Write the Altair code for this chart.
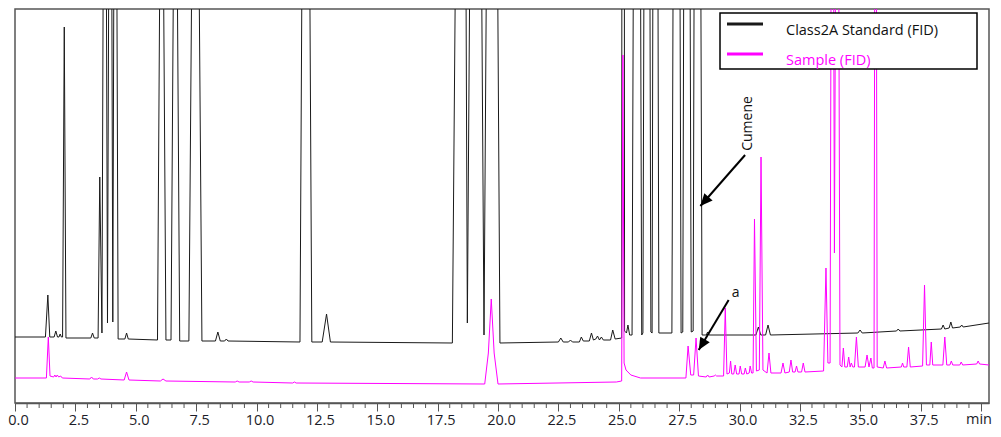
import altair as alt
import numpy as np
import pandas as pd

# ---------------- data ----------------
series_names = ["Class2A Standard (FID)", "Sample (FID)"]
series_colors = ["#1a1a1a", "#ff00ff"]

# Class2A Standard (FID) trace vertices: retention time (min), detector signal
std_time = [
    0.00, 1.26, 1.36, 1.44, 1.62, 1.69, 1.76, 1.82, 1.87, 1.92,
    1.97, 2.04, 2.11, 3.14, 3.21, 3.28, 3.44, 3.51, 3.60, 3.72,
    3.83, 3.95, 4.05, 4.15, 4.27, 4.55, 4.62, 4.69, 5.90, 6.07,
    6.25, 6.46, 6.64, 6.82, 7.20, 7.47, 7.74, 8.30, 8.40, 8.50,
    8.68, 8.75, 8.82, 11.80, 12.04, 12.29, 12.72, 12.90, 13.06, 18.11,
    18.53, 18.73, 19.08, 19.42, 19.76, 20.08, 22.50, 22.60, 22.70, 22.92,
    23.00, 23.08, 23.37, 23.45, 23.53, 23.78, 23.87, 23.95, 24.05, 24.12,
    24.20, 24.28, 24.36, 24.66, 24.75, 24.85, 25.12, 25.18, 25.24, 25.32,
    25.38, 25.45, 25.55, 25.76, 25.95, 26.00, 26.17, 26.33, 26.38, 26.51,
    26.66, 27.20, 27.40, 27.58, 27.65, 27.81, 28.00, 28.08, 28.24, 28.45,
    28.62, 28.68, 28.74, 30.68, 30.78, 30.88, 31.08, 31.18, 31.28, 34.90,
    34.99, 35.08, 36.50, 36.57, 36.64, 38.36, 38.43, 38.50, 38.68, 38.75,
    38.82, 39.14, 39.20, 39.26, 40.33,
]
std_signal = [
    66, 66, 108, 66, 66, 72, 66, 66, 69, 66,
    66, 376, 65, 65, 70, 65, 65, 226, 70, 900,
    80, 900, 81, 900, 64, 64, 70, 64, 63, 720,
    63, 63, 720, 62, 62, 900, 62, 62, 71, 62,
    62, 64, 62, 61, 1150, 61, 61, 89, 61, 60,
    1300, 80, 1300, 68, 1300, 60, 61, 65, 61, 61,
    63, 61, 61, 66, 62, 62, 70, 63, 64, 67,
    63, 66, 63, 63, 73, 64, 65, 3000, 72, 70,
    78, 68, 68, 1500, 68, 70, 1500, 71, 70, 1500,
    70, 70, 1500, 70, 71, 1500, 71, 72, 1500, 68,
    68, 71, 68, 68, 76, 68, 68, 78, 68, 70,
    73, 70, 72, 74, 72, 74, 78, 74, 75, 81,
    75, 76, 78, 76, 80,
]

# Sample (FID) trace vertices
smp_time = [
    0.00, 1.30, 1.38, 1.45, 1.60, 1.65, 1.70, 1.75, 1.81, 1.89,
    1.96, 3.10, 3.17, 3.24, 3.42, 3.49, 3.56, 4.52, 4.62, 4.72,
    6.02, 6.13, 6.25, 9.12, 9.20, 9.28, 9.70, 9.78, 9.86, 11.50,
    11.57, 11.64, 19.45, 19.60, 19.72, 19.84, 20.00, 24.90, 25.12, 25.17,
    25.22, 25.30, 25.50, 25.90, 27.78, 27.87, 27.98, 28.10, 28.20, 28.30,
    28.62, 28.68, 28.74, 28.95, 29.00, 29.05, 29.34, 29.41, 29.48, 29.58,
    29.63, 29.68, 29.76, 29.82, 29.88, 29.98, 30.03, 30.09, 30.19, 30.24,
    30.30, 30.40, 30.44, 30.50, 30.56, 30.62, 30.70, 30.82, 30.89, 30.97,
    31.14, 31.22, 31.30, 31.72, 31.80, 31.88, 32.06, 32.13, 32.20, 32.30,
    32.36, 32.42, 32.57, 32.64, 32.71, 33.48, 33.58, 33.66, 33.75, 33.84,
    33.93, 34.05, 34.16, 34.24, 34.30, 34.36, 34.46, 34.52, 34.58, 34.63,
    34.69, 34.76, 34.84, 34.92, 35.20, 35.28, 35.36, 35.44, 35.50, 35.57,
    35.63, 35.70, 35.95, 36.02, 36.09, 36.70, 36.75, 36.80, 36.93, 37.00,
    37.07, 37.58, 37.66, 37.74, 37.88, 37.94, 38.00, 38.42, 38.50, 38.58,
    38.71, 38.77, 38.83, 39.12, 39.18, 39.24, 39.82, 39.88, 39.94, 40.33,
]
smp_signal = [
    25, 25, 66, 27, 26, 28, 26, 28, 26, 27,
    25, 24, 26, 24, 24, 25, 24, 23, 31, 23,
    22, 24, 22, 21, 22, 21, 21, 22, 21, 20,
    21, 20, 19, 50, 104, 50, 19, 21, 22, 348,
    40, 33, 28, 25, 25, 57, 28, 28, 65, 27,
    26, 28, 26, 27, 28, 27, 27, 95, 29, 30,
    42, 29, 29, 38, 29, 29, 37, 29, 29, 35,
    29, 30, 37, 30, 30, 184, 32, 33, 246, 33,
    30, 50, 30, 30, 40, 30, 31, 43, 31, 31,
    37, 31, 31, 40, 31, 32, 135, 40, 40, 900,
    150, 900, 38, 36, 55, 36, 36, 46, 36, 40,
    36, 36, 66, 36, 36, 48, 36, 45, 35, 35,
    900, 36, 35, 42, 35, 36, 40, 36, 36, 56,
    36, 37, 118, 38, 38, 61, 38, 38, 66, 38,
    38, 42, 38, 38, 41, 38, 39, 42, 39, 38,
]

# x axis tick positions (min); the tick at 40 carries the unit label "min"
major_ticks = [0.0, 2.5, 5.0, 7.5, 10.0, 12.5, 15.0, 17.5, 20.0,
               22.5, 25.0, 27.5, 30.0, 32.5, 35.0, 37.5, 40.0]
minor_ticks = [0.5, 1.0, 1.5, 2.0, 3.0, 3.5, 4.0, 4.5, 5.5, 6.0, 6.5, 7.0,
               8.0, 8.5, 9.0, 9.5, 10.5, 11.0, 11.5, 12.0, 13.0, 13.5, 14.0, 14.5,
               15.5, 16.0, 16.5, 17.0, 18.0, 18.5, 19.0, 19.5, 20.5, 21.0, 21.5, 22.0,
               23.0, 23.5, 24.0, 24.5, 25.5, 26.0, 26.5, 27.0, 28.0, 28.5, 29.0, 29.5,
               30.5, 31.0, 31.5, 32.0, 33.0, 33.5, 34.0, 34.5, 35.5, 36.0, 36.5, 37.0,
               38.0, 38.5, 39.0, 39.5]
unit_label = "min"

# annotations
ann_text = ["Cumene", "a"]
ann_time = [30.37, 29.84]
ann_signal = [279.5, 110]
ann_angle = [270, 0]
arrow_tail_time = [30.23, 29.55]
arrow_tail_signal = [248, 103]
arrow_tip_time = [28.38, 28.31]
arrow_tip_signal = [197, 53]

# ---------------- chart ----------------
W, H = 974, 394
X_MAX = 40.33
Y_MAX = 394

trace = pd.concat([
    pd.DataFrame({"time": std_time, "signal": std_signal,
                  "series": series_names[0], "idx": range(len(std_time))}),
    pd.DataFrame({"time": smp_time, "signal": smp_signal,
                  "series": series_names[1], "idx": range(len(smp_time))}),
], ignore_index=True)

xs = alt.Scale(domain=[0, X_MAX], nice=False, zero=False)
ys = alt.Scale(domain=[0, Y_MAX], nice=False, zero=False)

font = "Open Sans"
axis_gray = "#555555"
label_color = "#1c1c28"
LABEL_FS = 14.5
LABEL_PAD = 2
TICK = 8

x_axis = alt.Axis(
    values=major_ticks,
    title=None,
    grid=False,
    labelExpr="datum.value >= 40 ? '' : format(datum.value, '.1f')",
    labelOverlap=False,
    labelFlush=False,
    labelFont=font,
    labelFontSize=LABEL_FS,
    labelColor=label_color,
    labelPadding=LABEL_PAD,
    labelOffset=3,
    tickSize=TICK,
    tickColor=axis_gray,
    tickWidth=1,
    domainColor=axis_gray,
    domainWidth=1.5,
)


def X(field):
    return alt.X(field, scale=xs, axis=x_axis)


def Y(field):
    return alt.Y(field, scale=ys, axis=None)


lines = alt.Chart(trace).mark_line(clip=True, strokeWidth=1).encode(
    x=X("time:Q"),
    y=Y("signal:Q"),
    color=alt.Color("series:N", scale=alt.Scale(domain=series_names, range=series_colors), legend=None),
    order="idx:Q",
)

minor = alt.Chart(pd.DataFrame({"time": minor_ticks})).mark_rule(color=axis_gray, strokeWidth=1).encode(
    x=X("time:Q"),
    y=alt.value(H),
    y2=alt.value(H + 5),
)

unit = alt.Chart(pd.DataFrame({"txt": [unit_label]})).mark_text(
    font=font, fontSize=LABEL_FS, color=label_color, align="right", baseline="top"
).encode(x=alt.value(W + 3), y=alt.value(H + TICK + LABEL_PAD), text="txt:N")

# annotation arrows
ax = np.array(arrow_tip_time) - np.array(arrow_tail_time)
ay = np.array(arrow_tip_signal) - np.array(arrow_tail_signal)
dx_px = ax * W / X_MAX
dy_px = -ay * H / Y_MAX
head_angle = (np.degrees(np.arctan2(dx_px, -dy_px)) + 360) % 360

arrows = pd.DataFrame({
    "t0": arrow_tail_time, "v0": arrow_tail_signal,
    "t1": arrow_tip_time, "v1": arrow_tip_signal,
    "ang": head_angle,
})

shafts = alt.Chart(arrows).mark_rule(color="black", strokeWidth=2).encode(
    x=X("t0:Q"), x2="t1:Q",
    y=Y("v0:Q"), y2="v1:Q",
)
heads = alt.Chart(arrows).mark_point(
    shape="M0,0L-0.45,1L0.45,1Z", filled=True, color="black", opacity=1, size=600, strokeWidth=0
).encode(
    x=X("t1:Q"),
    y=Y("v1:Q"),
    angle=alt.Angle("ang:Q", scale=None),
)

ann_df = pd.DataFrame({"t": ann_time, "v": ann_signal, "txt": ann_text, "ang": ann_angle})
ann = alt.Chart(ann_df).mark_text(font=font, fontSize=14, color="#111111", align="center", baseline="middle").encode(
    x=X("t:Q"),
    y=Y("v:Q"),
    text="txt:N",
    angle=alt.Angle("ang:Q", scale=None),
)

# legend box (drawn in pixel space, top-right)
one = pd.DataFrame({"k": [0]})
legend_layers = [
    alt.Chart(one).mark_rect(fill="white", stroke="black", strokeWidth=1.5).encode(
        x=alt.value(705), x2=alt.value(962), y=alt.value(4), y2=alt.value(60)
    )
]
for i, (name, col) in enumerate(zip(series_names, series_colors)):
    yy = 15 + 30 * i
    legend_layers.append(
        alt.Chart(one).mark_rule(color=col, strokeWidth=3).encode(
            x=alt.value(712), x2=alt.value(748), y=alt.value(yy)
        )
    )
    legend_layers.append(
        alt.Chart(one).mark_text(font=font, fontSize=14.5, color=col if i else "#111111",
                                 align="left", baseline="middle").encode(
            x=alt.value(771), y=alt.value(yy + 6.5), text=alt.value(name)
        )
    )

chart = alt.layer(lines, minor, unit, shafts, heads, ann, *legend_layers).properties(
    width=W, height=H,
    padding={"left": 7, "top": 1, "right": 4, "bottom": 26},
    autosize=alt.AutoSizeParams(type="none"),
).configure_view(stroke=axis_gray, strokeWidth=1.5)

chart.save("out.html", embed_options={"renderer": "svg", "actions": False})
